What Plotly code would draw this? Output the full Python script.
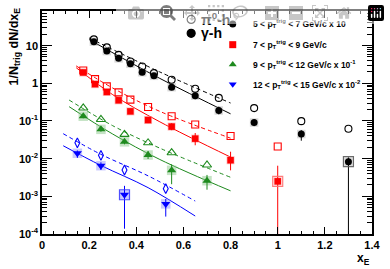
import plotly.graph_objects as go

# ---------------- data ----------------
# 5 < pT < 7 (x10), black
blk_x_g = [0.22, 0.275, 0.325, 0.375, 0.425, 0.475, 0.55, 0.65, 0.75, 0.9, 1.1, 1.3]
blk_y_g = [12.7, 7.2, 4.6, 3.3, 1.97, 1.58, 0.79, 0.47, 0.19, 0.091, 0.045, 0.0083]
blk_lo_g = [11.5, 6.5, 4.1, 2.9, 1.7, 1.35, 0.66, 0.38, 0.15, 0.073, 0.030, 0.00005]
blk_hi_g = [14.0, 8.0, 5.2, 3.7, 2.25, 1.85, 0.94, 0.58, 0.24, 0.11, 0.057, 0.0108]
blk_x_p = [0.22, 0.275, 0.325, 0.375, 0.425, 0.475, 0.55, 0.65, 0.75, 0.9, 1.1, 1.3]
blk_y_p = [14.7, 9.0, 5.7, 3.8, 2.8, 1.86, 1.24, 0.72, 0.41, 0.22, 0.099, 0.062]

# 7 < pT < 9, red
red_x_g = [0.175, 0.225, 0.275, 0.325, 0.375, 0.45, 0.55, 0.65, 0.8, 1.0]
red_y_g = [1.94, 0.95, 0.59, 0.354, 0.18, 0.106, 0.071, 0.034, 0.0091, 0.0025]
red_lo_g = [1.75, 0.85, 0.52, 0.31, 0.155, 0.088, 0.057, 0.0227, 0.0049, 0.00005]
red_hi_g = [2.15, 1.06, 0.66, 0.40, 0.21, 0.125, 0.087, 0.048, 0.0153, 0.0065]
red_x_p = [0.175, 0.225, 0.275, 0.325, 0.375, 0.45, 0.55, 0.65, 0.8, 1.0]
red_y_p = [2.19, 1.29, 0.83, 0.575, 0.37, 0.235, 0.134, 0.081, 0.040, 0.021]

# 9 < pT < 12 (x0.1), green
grn_x_g = [0.175, 0.25, 0.35, 0.45, 0.55, 0.7]
grn_y_g = [0.134, 0.060, 0.028, 0.0125, 0.0049, 0.0026]
grn_lo_g = [0.118, 0.052, 0.024, 0.0098, 0.0021, 0.0015]
grn_hi_g = [0.152, 0.069, 0.033, 0.016, 0.0071, 0.0037]
grn_x_p = [0.175, 0.25, 0.35, 0.45, 0.55, 0.7]
grn_y_p = [0.222, 0.11, 0.044, 0.0264, 0.0144, 0.0068]

# 12 < pT < 15 (x0.01), blue
blu_x_g = [0.15, 0.25, 0.35, 0.525]
blu_y_g = [0.0139, 0.0065, 0.0011, 0.00063]
blu_lo_g = [0.0105, 0.005, 0.000138, 0.00029]
blu_hi_g = [0.0165, 0.008, 0.0019, 0.00085]
blu_x_p = [0.15, 0.25, 0.35, 0.525]
blu_y_p = [0.0264, 0.0123, 0.005, 0.0016]

# fit curves (control points)
blk_fit_g_x = [0.2, 0.5, 0.8]
blk_fit_g_y = [14.5, 1.35, 0.155]
blk_fit_p_x = [0.2, 0.5, 0.8]
blk_fit_p_y = [16.0, 2.0, 0.30]
red_fit_g_x = [0.145, 0.3, 0.5, 0.8]
red_fit_g_y = [2.6, 0.5, 0.095, 0.011]
red_fit_p_x = [0.145, 0.3, 0.5, 0.8]
red_fit_p_y = [2.9, 0.75, 0.18, 0.035]
grn_fit_g_x = [0.115, 0.3, 0.5, 0.8]
grn_fit_g_y = [0.24, 0.045, 0.0095, 0.0014]
grn_fit_p_x = [0.115, 0.3, 0.5, 0.8]
grn_fit_p_y = [0.36, 0.075, 0.019, 0.0032]
blu_fit_g_x = [0.09, 0.25, 0.45, 0.65]
blu_fit_g_y = [0.022, 0.0066, 0.0017, 0.0003]
blu_fit_p_x = [0.09, 0.25, 0.45, 0.65]
blu_fit_p_y = [0.046, 0.013, 0.0035, 0.00075]

legend_labels = [
    "5 &lt; p<sub>T</sub><sup>trig</sup> &lt; 7 GeV/c x 10",
    "7 &lt; p<sub>T</sub><sup>trig</sup> &lt; 9 GeV/c",
    "9 &lt; p<sub>T</sub><sup>trig</sup> &lt; 12 GeV/c x 10<sup>-1</sup>",
    "12 &lt; p<sub>T</sub><sup>trig</sup> &lt; 15 GeV/c x 10<sup>-2</sup>",
]
ytick_vals = [1e-4, 1e-3, 1e-2, 1e-1, 1, 10]
ytick_text = ["10<sup>-4</sup>", "10<sup>-3</sup>", "10<sup>-2</sup>", "10<sup>-1</sup>", "1", "10"]
xtick_vals = [0, 0.2, 0.4, 0.6, 0.8, 1.0, 1.2, 1.4]
xtick_text = ["0", "0.2", "0.4", "0.6", "0.8", "1", "1.2", "1.4"]

FONT = "Liberation Sans, Arial, sans-serif"

fig = go.Figure()

series = [
    ("black", "rgba(150,150,150,0.35)", "circle", 7, blk_x_g, blk_y_g, blk_lo_g, blk_hi_g,
     blk_x_p, blk_y_p, "circle-open", 7, blk_fit_g_x, blk_fit_g_y, blk_fit_p_x, blk_fit_p_y),
    ("#ff0000", "rgba(255,130,130,0.55)", "square", 6.5, red_x_g, red_y_g, red_lo_g, red_hi_g,
     red_x_p, red_y_p, "square-open", 7, red_fit_g_x, red_fit_g_y, red_fit_p_x, red_fit_p_y),
    ("#1e8a1e", "rgba(140,200,140,0.5)", "triangle-up", 8, grn_x_g, grn_y_g, grn_lo_g, grn_hi_g,
     grn_x_p, grn_y_p, "triangle-up-open", 8, grn_fit_g_x, grn_fit_g_y, grn_fit_p_x, grn_fit_p_y),
    ("#0000ff", "rgba(140,140,255,0.45)", "triangle-down", 8, blu_x_g, blu_y_g, blu_lo_g, blu_hi_g,
     blu_x_p, blu_y_p, "diamond-tall-open", 7, blu_fit_g_x, blu_fit_g_y, blu_fit_p_x, blu_fit_p_y),
]

for (col, halo, sym, sz, xg, yg, lo, hi, xp, yp, osym, osz, fgx, fgy, fpx, fpy) in series:
    # fit lines
    fig.add_trace(go.Scatter(x=fgx, y=fgy, mode="lines", line=dict(color=col, width=1, shape="spline")))
    fig.add_trace(go.Scatter(x=fpx, y=fpy, mode="lines",
                             line=dict(color=col, width=1, dash="4px,3px", shape="spline")))
    # systematic halo boxes
    fig.add_trace(go.Scatter(x=xg, y=yg, mode="markers",
                             marker=dict(symbol="square", size=sz + 1.5, color=halo, line=dict(width=0))))
    # open (pi0-h)
    fig.add_trace(go.Scatter(x=xp, y=yp, mode="markers",
                             marker=dict(symbol=osym, size=osz, color=col, line=dict(width=1.1, color=col))))
    # filled (gamma-h) with errors
    fig.add_trace(go.Scatter(
        x=xg, y=yg, mode="markers",
        marker=dict(symbol=sym, size=sz, color=col, line=dict(width=0)),
        error_y=dict(type="data", symmetric=False,
                     array=[h - v for h, v in zip(hi, yg)],
                     arrayminus=[v - l for l, v in zip(lo, yg)],
                     color=col, thickness=1, width=0)))

# special systematic boxes
fig.add_trace(go.Scatter(x=[blk_x_g[-1]], y=[blk_y_g[-1]], mode="markers",
                         marker=dict(symbol="square-open", size=10, color="rgba(90,90,90,0.9)", line=dict(width=1.2))))
fig.add_trace(go.Scatter(x=[red_x_g[-1]], y=[red_y_g[-1]], mode="markers",
                         marker=dict(symbol="square-open", size=10, color="rgba(255,110,110,0.9)", line=dict(width=1.2))))
fig.add_trace(go.Scatter(x=[blu_x_g[2]], y=[blu_y_g[2]], mode="markers",
                         marker=dict(symbol="square-open", size=10, color="rgba(60,60,255,0.9)", line=dict(width=1.2))))

# legend markers on overlay axes
leg_cols = ["black", "#ff0000", "#1e8a1e", "#0000ff"]
leg_syms = ["circle", "square", "triangle-up", "triangle-down"]
leg_y = [0.942, 0.849, 0.760, 0.671]
fig.add_trace(go.Scatter(x=[0.578] * 4, y=leg_y, mode="markers", xaxis="x2", yaxis="y2",
                         marker=dict(symbol=leg_syms, color=leg_cols, size=7, line=dict(width=0))))
fig.add_trace(go.Scatter(x=[0.452, 0.452], y=[0.962, 0.900], mode="markers", xaxis="x2", yaxis="y2",
                         marker=dict(symbol=["circle-open", "circle"], color="black", size=8,
                                     line=dict(width=1.2, color="black"))))

ann = []
for lab, yy in zip(legend_labels, leg_y):
    ann.append(dict(x=0.633, y=yy, xref="paper", yref="paper", text="<b>" + lab + "</b>", showarrow=False,
                    xanchor="left", yanchor="middle", font=dict(family=FONT, size=8.5, color="black")))
ann.append(dict(x=0.476, y=0.962, xref="paper", yref="paper", text="<b>π<sup>0</sup>-h</b>", showarrow=False,
                xanchor="left", yanchor="middle", font=dict(family=FONT, size=14, color="black")))
ann.append(dict(x=0.476, y=0.900, xref="paper", yref="paper", text="<b>γ-h</b>", showarrow=False,
                xanchor="left", yanchor="middle", font=dict(family=FONT, size=14, color="black")))
ann.append(dict(x=1.0, y=-0.068, xref="paper", yref="paper", text="<b>x<sub>E</sub></b>", showarrow=False,
                xanchor="right", yanchor="top", font=dict(family=FONT, size=12, color="black")))
ann.append(dict(x=-0.112, y=1.025, xref="paper", yref="paper", text="<b>1/N<sub>trig</sub> dN/dx<sub>E</sub></b>",
                showarrow=False, textangle=-90, xanchor="left", yanchor="top",
                font=dict(family=FONT, size=12.5, color="black")))

fig.update_layout(
    width=390, height=269,
    margin=dict(l=42, r=16, t=9, b=35),
    paper_bgcolor="white", plot_bgcolor="white",
    showlegend=False,
    annotations=ann,
    font=dict(family=FONT, color="black"),
    xaxis=dict(range=[0, 1.4], tickvals=xtick_vals, ticktext=xtick_text,
               ticks="inside", ticklen=7, tickwidth=1, tickcolor="black",
               showline=True, linecolor="black", linewidth=1.5, mirror="ticks",
               showgrid=False, zeroline=False,
               tickfont=dict(family=FONT, size=11, color="black", weight="bold"),
               minor=dict(dtick=0.05, ticks="inside", ticklen=3.5, tickcolor="black", showgrid=False)),
    yaxis=dict(type="log", range=[-4, 1.92], tickvals=ytick_vals, ticktext=ytick_text,
               ticks="inside", ticklen=10, tickwidth=1, tickcolor="black",
               showline=True, linecolor="black", linewidth=1.5, mirror="ticks",
               showgrid=False, zeroline=False,
               tickfont=dict(family=FONT, size=11, color="black", weight="bold"),
               minor=dict(dtick="D1", ticks="inside", ticklen=5, tickcolor="black", showgrid=False)),
    xaxis2=dict(overlaying="x", range=[0, 1], visible=False),
    yaxis2=dict(overlaying="y", range=[0, 1], visible=False),
)

fig.write_html("out.html", post_script="document.body.style.margin='0';document.body.style.padding='0';")
